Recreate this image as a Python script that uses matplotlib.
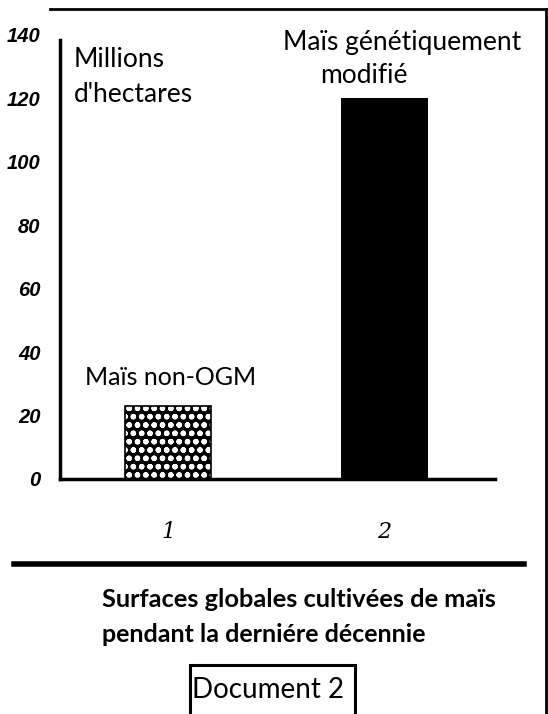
import matplotlib
matplotlib.use("Agg")
import matplotlib.pyplot as plt
from matplotlib.lines import Line2D
from matplotlib.patches import Rectangle

# ---- data ----
categories = ["1", "2"]
values = [23, 120]
label_nonogm = "Maïs non-OGM"
label_gm_1 = "Maïs génétiquement"
label_gm_2 = "modifié"
y_ticks = [0, 20, 40, 60, 80, 100, 120, 140]
unit_1 = "Millions"
unit_2 = "d'hectares"
caption_1 = "Surfaces globales cultivées de maïs"
caption_2 = "pendant la derniére décennie"
doc_label = "Document 2"

W, H = 548, 714
plt.rcParams['font.family'] = ['Lato', 'DejaVu Sans']
plt.rcParams['hatch.linewidth'] = 1.6

fig = plt.figure(figsize=(W / 100, H / 100), dpi=100)
fig.patch.set_facecolor("white")


def fx(x):
    return x / W


def fy(y):
    return 1 - y / H


ax = fig.add_axes([fx(60), fy(479), (495 - 60) / W, (479 - 35) / H])
xpos = [1, 2]
ax.bar(xpos[0], values[0], width=0.40, facecolor="black", edgecolor="white",
       hatch="oo", linewidth=0)
ax.bar(xpos[0], values[0], width=0.40, facecolor="none", edgecolor="black",
       linewidth=1.2)
ax.bar(xpos[1], values[1], width=0.40, color="black", linewidth=0)

ax.set_xlim(0.5, 2.51)
ax.set_ylim(0, 140)
ax.set_yticks(y_ticks)
ax.set_yticklabels([str(v) for v in y_ticks], fontsize=14.5, fontweight="bold",
                   family=["Liberation Sans", "DejaVu Sans"], style="italic")
ax.set_xticks(xpos)
ax.set_xticklabels(categories, fontsize=16, family="DejaVu Serif", style="italic")
ax.tick_params(axis="y", length=0, pad=14)
ax.tick_params(axis="x", length=0, pad=30)
for s in ["top", "right"]:
    ax.spines[s].set_visible(False)
ax.spines["left"].set_linewidth(2.5)
ax.spines["bottom"].set_linewidth(2.5)
ax.spines["left"].set_bounds(0, 138.4)

# texts inside chart
fig.text(fx(74), fy(67), unit_1, fontsize=19, va="baseline", ha="left")
fig.text(fx(74), fy(102), unit_2, fontsize=19, va="baseline", ha="left")
fig.text(fx(85), fy(385), label_nonogm, fontsize=18, va="baseline", ha="left")
fig.text(fx(283), fy(50), label_gm_1, fontsize=19, va="baseline", ha="left")
fig.text(fx(320), fy(83), label_gm_2, fontsize=19, va="baseline", ha="left")

# frame / decoration lines
fig.add_artist(Line2D([fx(50), fx(546)], [fy(9), fy(9)], color="black", lw=2))
fig.add_artist(Line2D([fx(546), fx(546)], [fy(9), fy(714)], color="black", lw=2))
fig.add_artist(Line2D([fx(14), fx(524)], [fy(564), fy(564)], color="black", lw=4))

# caption
fig.text(fx(102), fy(607), caption_1, fontsize=18.3, fontweight="bold", ha="left",
         va="baseline")
fig.text(fx(102), fy(642), caption_2, fontsize=18, fontweight="bold", ha="left",
         va="baseline")
fig.add_artist(Rectangle((fx(190), fy(725)), (355 - 190) / W, (725 - 665) / H,
                         transform=fig.transFigure, fill=False, edgecolor="black",
                         lw=2.2))
fig.text(fx(268), fy(698), doc_label, fontsize=20, ha="center", va="baseline")

fig.savefig("out.png", dpi=100, facecolor="white")
